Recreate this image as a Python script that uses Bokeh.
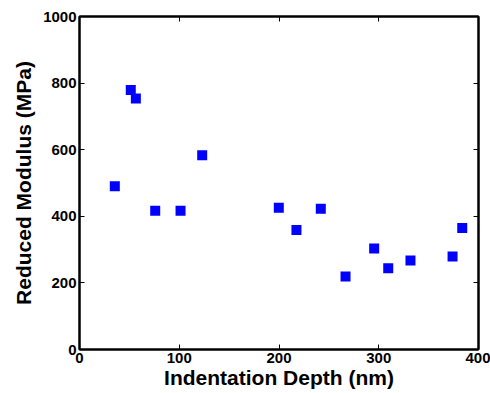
from bokeh.plotting import figure
from bokeh.models import LinearAxis, Range1d, FixedTicker, CustomJSTickFormatter
from bokeh.embed import file_html
from bokeh.resources import INLINE

depth = [35.4, 51.4, 56.5, 75.9, 101.3, 123.0, 199.8, 217.5, 241.9, 266.7, 295.4, 309.5, 331.8, 374.0, 383.7]
modulus = [490, 779, 754, 417, 417, 583, 426, 359, 423, 219, 303, 244, 267, 279, 365]
x_ticks = [0, 100, 200, 300, 400]
y_ticks = [0, 200, 400, 600, 800, 1000]

FONT = "Liberation Sans"

p = figure(width=490, height=393, output_backend="svg", toolbar_location=None,
           x_range=Range1d(0, 400), y_range=Range1d(0, 1000),
           min_border_left=79, min_border_right=12, min_border_top=16, min_border_bottom=44,
           x_axis_label="Indentation Depth (nm)", y_axis_label="Reduced Modulus (MPa)")
p.grid.visible = False
p.outline_line_color = "black"
p.outline_line_width = 2
p.background_fill_color = "white"
p.border_fill_color = "white"

for ax, ticks in ((p.xaxis[0], x_ticks), (p.yaxis[0], y_ticks)):
    ax.ticker = FixedTicker(ticks=ticks)
    ax.major_tick_in = 5
    ax.major_tick_out = 0
    ax.minor_tick_line_color = None
    ax.axis_line_width = 2
    ax.major_tick_line_width = 1
    ax.major_label_text_font = FONT
    ax.major_label_text_font_style = "bold"
    ax.major_label_text_font_size = "15px"
    ax.major_label_text_color = "black"
    ax.axis_label_text_font = FONT
    ax.axis_label_text_font_style = "bold"
    ax.axis_label_text_font_size = "21px"
    ax.axis_label_text_color = "black"
p.xaxis[0].major_label_standoff = 3
p.xaxis[0].axis_label_standoff = 0
p.yaxis[0].major_label_standoff = 3
p.yaxis[0].axis_label_standoff = 5

blank = CustomJSTickFormatter(code="return ''")
top = LinearAxis(ticker=FixedTicker(ticks=x_ticks), major_tick_in=5, major_tick_out=0,
                 minor_tick_line_color=None, formatter=blank, major_label_standoff=0,
                 axis_line_width=2)
right = LinearAxis(ticker=FixedTicker(ticks=y_ticks), major_tick_in=5, major_tick_out=0,
                   minor_tick_line_color=None, formatter=blank, major_label_standoff=0,
                   axis_line_width=2)
p.add_layout(top, "above")
p.add_layout(right, "right")

p.scatter(depth, modulus, marker="square", size=10, fill_color="#0000ff", line_color=None)

open("out.html", "w").write(file_html(p, INLINE))
